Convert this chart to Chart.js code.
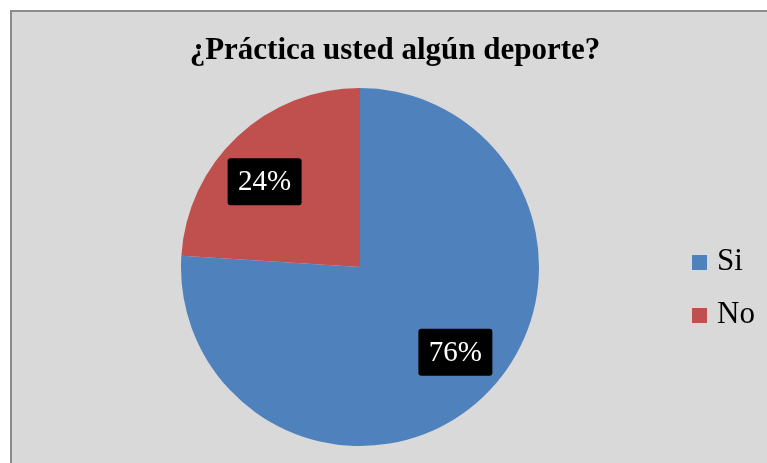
<!DOCTYPE html>
<html>
<head>
<meta charset="utf-8">
<script src="https://cdn.jsdelivr.net/npm/chart.js@4/dist/chart.umd.min.js"></script>
<style>
  html, body { margin: 0; padding: 0; background: #ffffff; overflow: hidden; }
  #frame {
    position: absolute; left: 10px; top: 10px;
    width: 766px; height: 460px;
    border: 2px solid #8c8c8c;
    background: #d9d9d9;
  }
  #chart { display: block; }
</style>
</head>
<body>
<div id="frame"><canvas id="chart" width="766" height="460"></canvas></div>
<script>
// Respuestas a la encuesta
const titleText = '¿Práctica usted algún deporte?';
const labels = ['Si', 'No'];
const percents = [76, 24];
const colors = ['#4f81bd', '#c0504d'];

const serif = '"Liberation Serif", "Times New Roman", serif';

// Titulo centrado sobre todo el recuadro (no solo sobre el pastel)
const boxTitle = {
  id: 'boxTitle',
  afterDraw(chart) {
    const ctx = chart.ctx;
    ctx.save();
    ctx.font = 'bold 31px ' + serif;
    ctx.fillStyle = '#000000';
    ctx.textAlign = 'center';
    ctx.textBaseline = 'middle';
    ctx.fillText(titleText, chart.width / 2, 39);
    ctx.restore();
  }
};

// Etiquetas de porcentaje en cajas negras sobre cada sector
const sliceLabels = {
  id: 'sliceLabels',
  afterDatasetsDraw(chart) {
    const ctx = chart.ctx;
    const meta = chart.getDatasetMeta(0);
    ctx.save();
    ctx.font = '29px ' + serif;
    ctx.textAlign = 'center';
    ctx.textBaseline = 'middle';
    meta.data.forEach((arc, i) => {
      const mid = (arc.startAngle + arc.endAngle) / 2 - 0.087;
      const d = arc.outerRadius * 0.715;
      const x = arc.x + Math.cos(mid) * d;
      const y = arc.y + Math.sin(mid) * d;
      const text = percents[i] + '%';
      const w = 74;
      const h = 47;
      ctx.fillStyle = '#000000';
      ctx.beginPath();
      ctx.roundRect(x - w / 2, y - h / 2, w, h, 3);
      ctx.fill();
      ctx.fillStyle = '#ffffff';
      ctx.fillText(text, x, y + 1);
    });
    ctx.restore();
  }
};

// Leyenda a la derecha
const sideLegend = {
  id: 'sideLegend',
  afterDraw(chart) {
    const ctx = chart.ctx;
    ctx.save();
    ctx.font = '31px ' + serif;
    ctx.textBaseline = 'middle';
    labels.forEach((lab, i) => {
      const y = 250 + i * 53;
      ctx.fillStyle = colors[i];
      ctx.fillRect(680, y - 7, 15, 15);
      ctx.fillStyle = '#000000';
      ctx.fillText(lab, 705, y);
    });
    ctx.restore();
  }
};

new Chart(document.getElementById('chart'), {
  type: 'pie',
  data: {
    labels: labels,
    datasets: [{
      data: percents,
      backgroundColor: colors,
      borderWidth: 0
    }]
  },
  options: {
    responsive: false,
    animation: false,
    layout: { padding: { top: 76, left: 169, right: 239, bottom: 26 } },
    plugins: {
      legend: { display: false },
      tooltip: { enabled: false },
      title: { display: false }
    }
  },
  plugins: [sliceLabels, sideLegend, boxTitle]
});
</script>
</body>
</html>
